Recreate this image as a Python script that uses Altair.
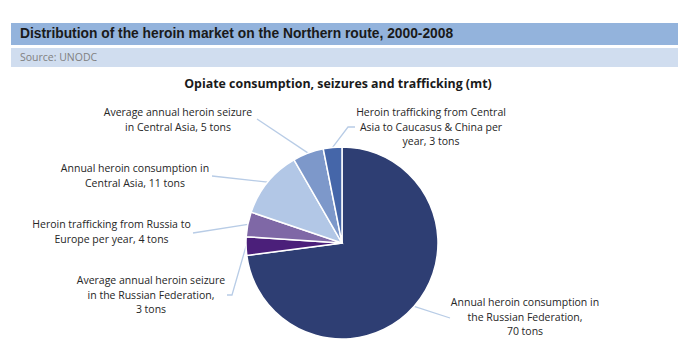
import math
import altair as alt
import pandas as pd

# ---- data ----
labels = [
    "Annual heroin consumption in\nthe Russian Federation,\n70 tons",
    "Average annual heroin seizure\nin the Russian Federation,\n3 tons",
    "Heroin trafficking from Russia to\nEurope per year, 4 tons",
    "Annual heroin consumption in\nCentral Asia, 11 tons",
    "Average annual heroin seizure\nin Central Asia, 5 tons",
    "Heroin trafficking from Central\nAsia to Caucasus & China per\nyear, 3 tons",
]
values = [70, 3, 4, 11, 5, 3]
colors = ["#2E3E73", "#4B1F7A", "#7F68A6", "#B2C7E6", "#7D98CA", "#4566A9"]

title = "Distribution of the heroin market on the Northern route, 2000-2008"
source = "Source: UNODC"
subtitle = "Opiate consumption, seizures and trafficking (mt)"

# ---- layout (page pixel coordinates) ----
W, H = 684, 343
CX, CY, R = 342, 243, 96
label_pos = [(525, 303), (151, 281), (111.5, 225), (135, 169), (178, 113), (431, 113)]
leader_start = [
    [(450, 318)],
    [(227, 295), (232, 295)],
    [(193, 233)],
    [(212, 176)],
    [(257, 119)],
    [(355, 127), (348, 127)],
]

xs = alt.Scale(domain=[8, 8 + W], range=[0, W])
ys = alt.Scale(domain=[8, 8 + H], range=[0, H])

df = pd.DataFrame({"label": labels, "value": values, "idx": list(range(len(values)))})

pie = alt.Chart(df).mark_arc(
    radius=R, stroke="white", strokeWidth=1.5, x=CX - 8, y=CY - 8
).encode(
    theta=alt.Theta("value:Q", stack=True),
    order=alt.Order("idx:Q"),
    color=alt.Color("label:N", scale=alt.Scale(domain=labels, range=colors), legend=None),
)

# leader lines: from label to pie edge at slice mid-angle
total = sum(values)
rows = []
cum = 0
for i, v in enumerate(values):
    mid = (cum + v / 2) / total * 2 * math.pi
    cum += v
    pts = list(leader_start[i]) + [(CX + R * math.sin(mid), CY - R * math.cos(mid))]
    for k, (px, py) in enumerate(pts):
        rows.append({"g": i, "k": k, "x": px, "y": py})
ldf = pd.DataFrame(rows)

leaders = alt.Chart(ldf).mark_line(color="#B8CCE6", strokeWidth=1.3).encode(
    x=alt.X("x:Q", scale=xs, axis=None),
    y=alt.Y("y:Q", scale=ys, axis=None),
    detail="g:N",
    order="k:Q",
)

tdf = pd.DataFrame({
    "label": labels,
    "x": [p[0] for p in label_pos],
    "y": [p[1] for p in label_pos],
})
texts = alt.Chart(tdf).mark_text(
    font="Open Sans", fontSize=10.5, color="#262626", lineBreak="\n",
    lineHeight=14.5, align="center", baseline="middle",
).encode(
    x=alt.X("x:Q", scale=xs, axis=None),
    y=alt.Y("y:Q", scale=ys, axis=None),
    text="label:N",
)

band1 = alt.Chart(pd.DataFrame({"a": [0]})).mark_rect(color="#93B3DC").encode(
    x=alt.value(11 - 8), x2=alt.value(678 - 8), y=alt.value(23 - 8), y2=alt.value(45 - 8)
)
band2 = alt.Chart(pd.DataFrame({"a": [0]})).mark_rect(color="#D0DDEF").encode(
    x=alt.value(11 - 8), x2=alt.value(678 - 8), y=alt.value(48 - 8), y2=alt.value(67 - 8)
)
title_t = alt.Chart(pd.DataFrame({"t": [title]})).mark_text(
    font="Liberation Sans", fontWeight="bold", fontSize=13.8, color="#1a1a1a",
    align="left", baseline="middle",
).encode(x=alt.value(20 - 8), y=alt.value(34 - 8), text="t:N")
source_t = alt.Chart(pd.DataFrame({"t": [source]})).mark_text(
    font="Open Sans", fontSize=10.5, color="#808080", align="left", baseline="middle",
).encode(x=alt.value(20 - 8), y=alt.value(58 - 8), text="t:N")
sub_t = alt.Chart(pd.DataFrame({"t": [subtitle]})).mark_text(
    font="Open Sans", fontWeight="bold", fontSize=12.4, color="#1a1a1a",
    align="center", baseline="middle",
).encode(x=alt.value(338 - 8), y=alt.value(84 - 8), text="t:N")

chart = alt.layer(band1, band2, title_t, source_t, sub_t, leaders, pie, texts).properties(
    width=W, height=H, padding=0, autosize=alt.AutoSizeParams(type="none")
).configure_view(stroke=None)

chart.save("out.html", embed_options={"renderer": "svg", "actions": False})
